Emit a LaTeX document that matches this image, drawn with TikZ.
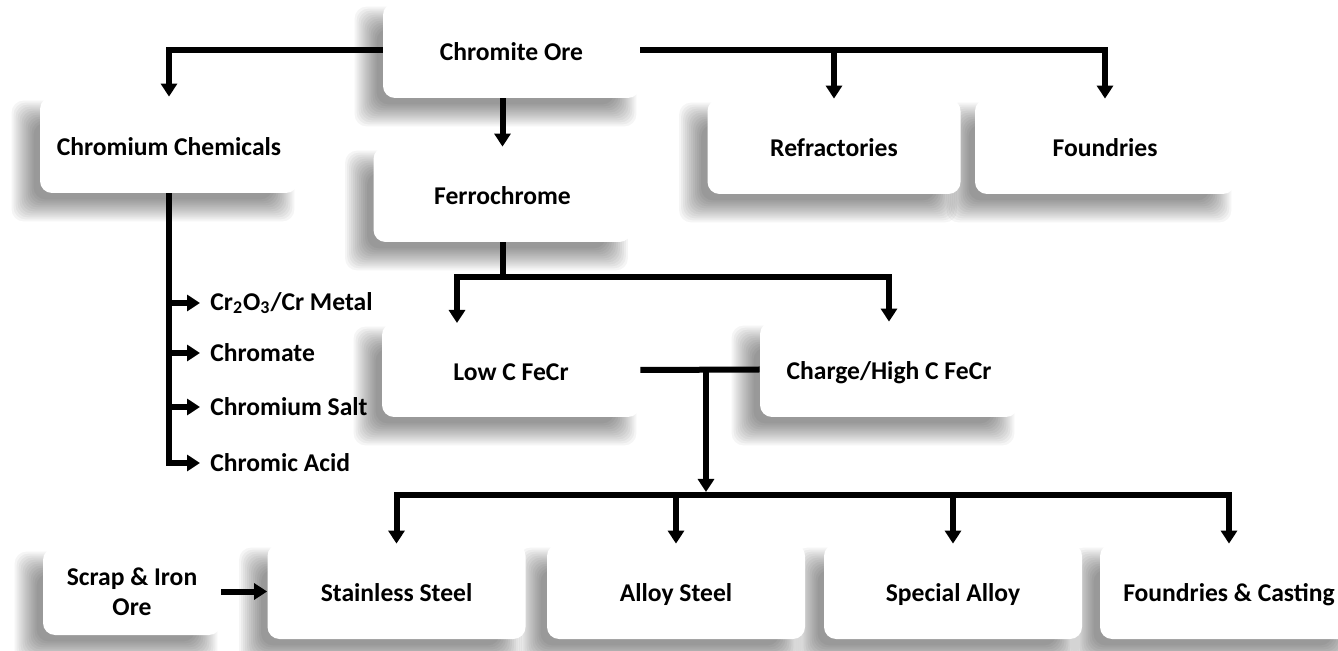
\documentclass[tikz,border=0pt]{standalone}
\usepackage{fontspec}
\setmainfont{Carlito}
\usetikzlibrary{arrows.meta,backgrounds}

\tikzset{
  box/.style={fill=white, rounded corners=6pt, align=center,
    minimum width=129pt, minimum height=47.5pt, inner sep=2pt,
    text height=10.5pt, text depth=0pt,
    font=\bfseries\fontsize{12.8}{15}\selectfont},
  item/.style={anchor=west, inner sep=5pt,
    font=\bfseries\fontsize{12.8}{15}\selectfont},
  shade layer/.style={fill=black, opacity=0.04, rounded corners=6pt},
  conn/.style={draw=black, line width=3pt},
  arr/.style={conn, -{Triangle[width=8pt,length=6.5pt]}}
}

% soft drop shadow below and left of a box: stacked translucent layers
\newcommand\boxshade[1]{%
  \foreach \k in {0,...,11}{%
    \pgfmathsetmacro\e{6-\k}%
    \fill[shade layer]
      ([shift={(-8pt-\e pt,-8pt-\e pt)}]#1.south west) rectangle
      ([shift={(-8pt+\e pt,-8pt+\e pt)}]#1.north east);
  }}

\begin{document}
\begin{tikzpicture}[x=0.5pt,y=-0.5pt]
\useasboundingbox (0,0) rectangle (1338,651);

% boxes
\node[box, minimum width=128.5pt] (ore) at (511.5,50.5) {Chromite Ore};
\node[box, minimum height=48pt] (chem) at (169,145) {Chromium Chemicals};
\node[box] (ferro) at (502.5,194.5) {Ferrochrome};
\node[box, minimum width=126.5pt] (refr) at (834,146.5) {Refractories};
\node[box, minimum width=130pt] (fndr) at (1105,146.5) {Foundries};
\node[box, minimum height=47pt] (lowc) at (511,370) {Low C FeCr};
\node[box] (high) at (889,369.5) {Charge/High C FeCr};
\node[box] (ss) at (396.5,591.5) {Stainless Steel};
\node[box] (as) at (676,591.5) {Alloy Steel};
\node[box] (sp) at (953,591.5) {Special Alloy};
\node[box] (fc) at (1229,591.5) {Foundries \& Casting};
\node[box, minimum width=89pt, minimum height=43.5pt, text height=, text depth=] (scrap) at (132,591.5) {Scrap \& Iron\\Ore};

% shadows and white page behind everything
\begin{pgfonlayer}{background}
  \fill[white] (0,0) rectangle (1338,651);
  \foreach \b in {ore,chem,ferro,refr,fndr,lowc,high,ss,as,sp,fc,scrap}{\boxshade{\b}}
\end{pgfonlayer}

% chemical products
\node[item] (i1) at (200,303) {Cr\textsubscript{2}O\textsubscript{3}/Cr Metal};
\node[item] (i2) at (200,353) {Chromate};
\node[item] (i3) at (200,407) {Chromium Salt};
\node[item] (i4) at (200,463) {Chromic Acid};

% junction points
\coordinate (fj) at (502.5,277);
\coordinate (lowin) at (457,323);
\coordinate (mj) at (706,370);
\coordinate (hb) at (706,495);

% connectors from the ore
\draw[arr] (ore.west) -| (chem.north);
\draw[arr] (ore.east) -| (fndr.north);
\draw[arr] (ore.east -| refr.north) -- (refr.north);
\draw[arr] (ore.south -| ferro.north) -- (ferro.north);

% chemicals branch
\draw[arr] (chem.south) |- (i4.west);
\draw[arr] (chem.south |- i1.west) -- (i1.west);
\draw[arr] (chem.south |- i2.west) -- (i2.west);
\draw[arr] (chem.south |- i3.west) -- (i3.west);

% ferrochrome branch
\draw[conn] (ferro.south) -- (fj);
\draw[arr] (fj) -| (lowin);
\draw[arr] (fj) -| (high.north);

% ferrochrome grades into steels and alloys
\draw[conn] (lowc.east) -- (high.west);
\draw[arr] (mj) -- ([yshift=1.5pt]hb);
\draw[arr] (hb) -| (ss.north);
\draw[arr] (hb) -| (fc.north);
\draw[arr] (hb -| as.north) -- (as.north);
\draw[arr] (hb -| sp.north) -- (sp.north);

\draw[arr] (scrap.east) -- (ss.west);
\end{tikzpicture}
\end{document}
